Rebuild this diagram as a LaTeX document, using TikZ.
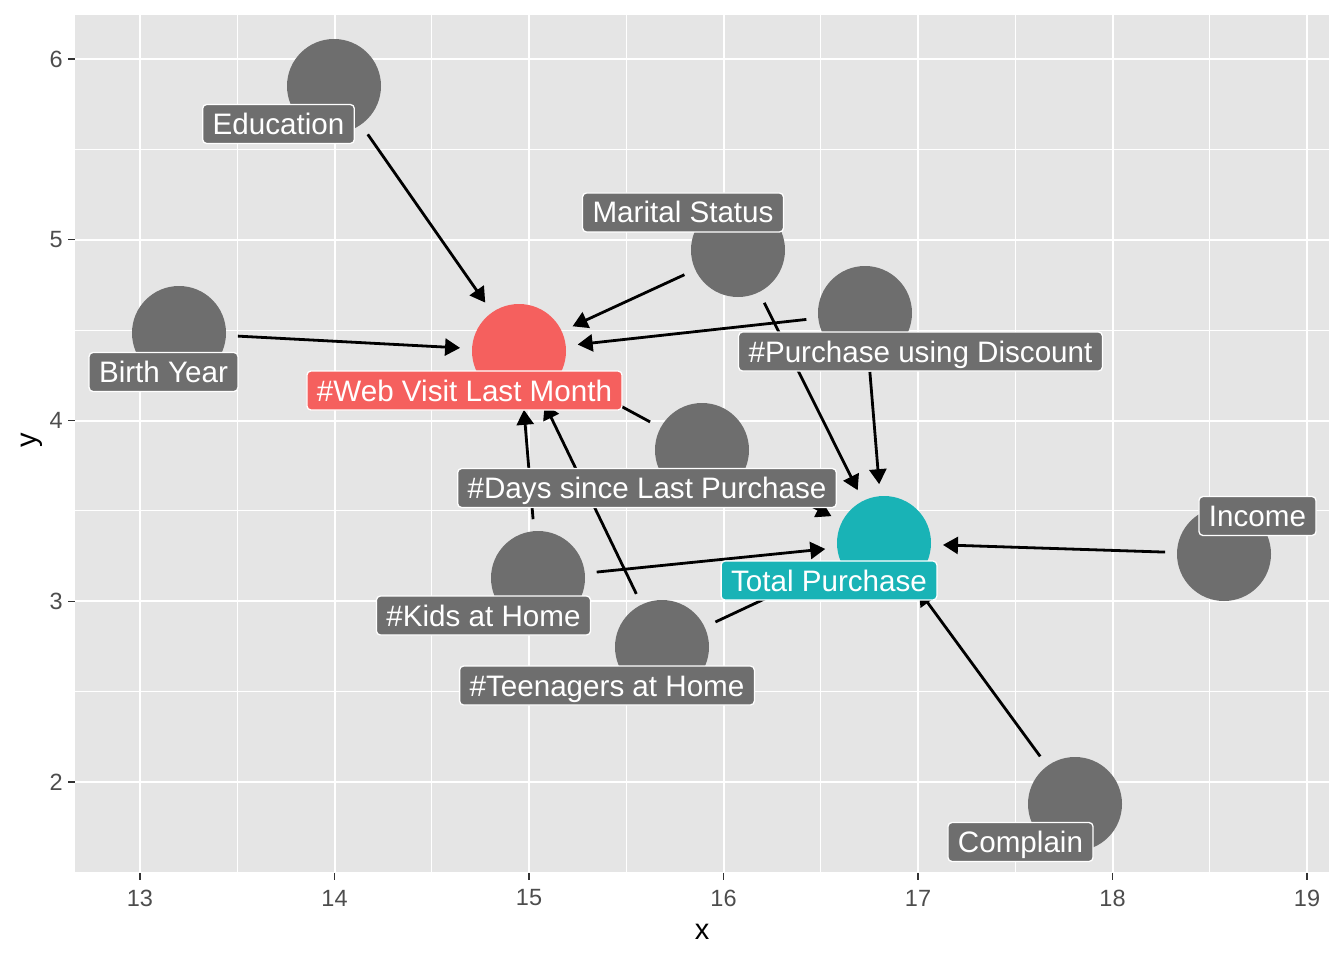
\documentclass[tikz,border=0pt]{standalone}
\usepackage{fontspec}
\setmainfont{Liberation Sans}
\usetikzlibrary{arrows.meta}
\definecolor{panelbg}{HTML}{E5E5E5}
\definecolor{nodegray}{HTML}{6E6E6E}
\definecolor{expred}{HTML}{F5605E}
\definecolor{outteal}{HTML}{19B3B6}
\definecolor{ticktext}{HTML}{4D4D4D}
\definecolor{tickline}{HTML}{333333}
\tikzset{
  dagnode/.style={circle, fill=#1, minimum size=94pt, inner sep=0pt, outer sep=12pt},
  daglabel/.style={rectangle, rounded corners=4pt, fill=#1, draw=white, line width=1.3pt,
    text=white, font=\fontsize{29.6}{29.6}\selectfont, inner xsep=10pt, inner ysep=0pt,
    minimum height=39pt, text height=21pt, text depth=0pt},
  edge/.style={draw=black, line width=2.8pt, -{Triangle[length=15pt,width=17pt]}},
  minorgrid/.style={white, line width=1pt},
  majorgrid/.style={white, line width=2pt},
  tickmark/.style={tickline, line width=1.2pt},
  ticklab/.style={text=ticktext, font=\fontsize{23.5}{23.5}\selectfont, inner sep=0pt},
  axtitle/.style={text=black, font=\fontsize{29}{29}\selectfont, inner sep=0pt}
}
\begin{document}
\begin{tikzpicture}[x=1pt, y=-1pt]
\useasboundingbox (0,0) rectangle (1344,960);
\fill[white] (0,0) rectangle (1344,960);
% panel
\fill[panelbg] (75,15) rectangle (1329,873);
\begin{scope}
\clip (75,15) rectangle (1329,873);
\foreach \gx in {237.25,431.75,626.25,820.75,1015.25,1209.75}
  \draw[minorgrid] (\gx,15) -- (\gx,873);
\foreach \gy in {149.4,330.1,510.9,691.6,872.4}
  \draw[minorgrid] (75,\gy) -- (1329,\gy);
\foreach \gx in {140,334.5,529,723.5,918,1112.5,1307}
  \draw[majorgrid] (\gx,15) -- (\gx,873);
\foreach \gy in {59,239.75,420.5,601.25,782}
  \draw[majorgrid] (75,\gy) -- (1329,\gy);
\end{scope}
% ticks and tick labels
\foreach \gx/\lab in {140/13,334.5/14,529/15,723.5/16,918/17,1112.5/18,1307/19}{
  \draw[tickmark] (\gx,873) -- (\gx,880);
  \node[ticklab, anchor=center] (xt\lab) at (\gx,898) {\lab};
}
\foreach \gy/\lab in {59/6,239.75/5,420.5/4,601.25/3,782/2}{
  \draw[tickmark] (68,\gy) -- (75,\gy);
  \node[ticklab, anchor=east] (yt\lab) at (63,\gy) {\lab};
}
\node[axtitle] (xtitle) at (702,932) {x};
\node[axtitle, rotate=90] (ytitle) at (32,440) {y};
% circles
\node[dagnode=nodegray] (edu) at (334,86) {};
\node[dagnode=nodegray] (birth) at (179,333) {};
\node[dagnode=expred] (web) at (519,351) {};
\node[dagnode=nodegray] (mar) at (738,250) {};
\node[dagnode=nodegray] (disc) at (865,313) {};
\node[dagnode=nodegray] (days) at (702,450) {};
\node[dagnode=outteal] (tot) at (884,543) {};
\node[dagnode=nodegray] (kids) at (538,578) {};
\node[dagnode=nodegray] (teen) at (662,647) {};
\node[dagnode=nodegray] (inc) at (1224,554) {};
\node[dagnode=nodegray] (comp) at (1075,804) {};
% edges
\draw[edge] (edu) -- (web);
\draw[edge] (mar) -- (web);
\draw[edge] (disc) -- (web);
\draw[edge] (birth) -- (web);
\draw[edge] (days) -- (web);
\draw[edge] (kids) -- (web);
\draw[edge] (teen) -- (web);
\draw[edge] (kids) -- (tot);
\draw[edge] (teen) -- (tot);
\draw[edge] (days) -- (tot);
\draw[edge] (mar) -- (tot);
\draw[edge] (disc) -- (tot);
\draw[edge] (inc) -- (tot);
\draw[edge] (comp) -- (tot);
% labels
\node[daglabel=nodegray] (ledu) at (278.5,124) {Education};
\node[daglabel=nodegray] (lmar) at (683,212.5) {Marital Status};
\node[daglabel=nodegray] (ldisc) at (920.5,351.5) {\#Purchase using Discount};
\node[daglabel=expred] (lweb) at (464.5,390.5) {\#Web Visit Last Month};
\node[daglabel=nodegray] (lbirth) at (163.5,372) {Birth Year};
\node[daglabel=nodegray] (ldays) at (647,488) {\#Days since Last Purchase};
\node[daglabel=outteal] (ltot) at (829,580.5) {Total Purchase};
\node[daglabel=nodegray] (lkids) at (483.5,615.5) {\#Kids at Home};
\node[daglabel=nodegray] (lteen) at (607,685.5) {\#Teenagers at Home};
\node[daglabel=nodegray] (linc) at (1257.5,516) {Income};
\node[daglabel=nodegray] (lcomp) at (1020.5,842) {Complain};
\end{tikzpicture}
\end{document}
